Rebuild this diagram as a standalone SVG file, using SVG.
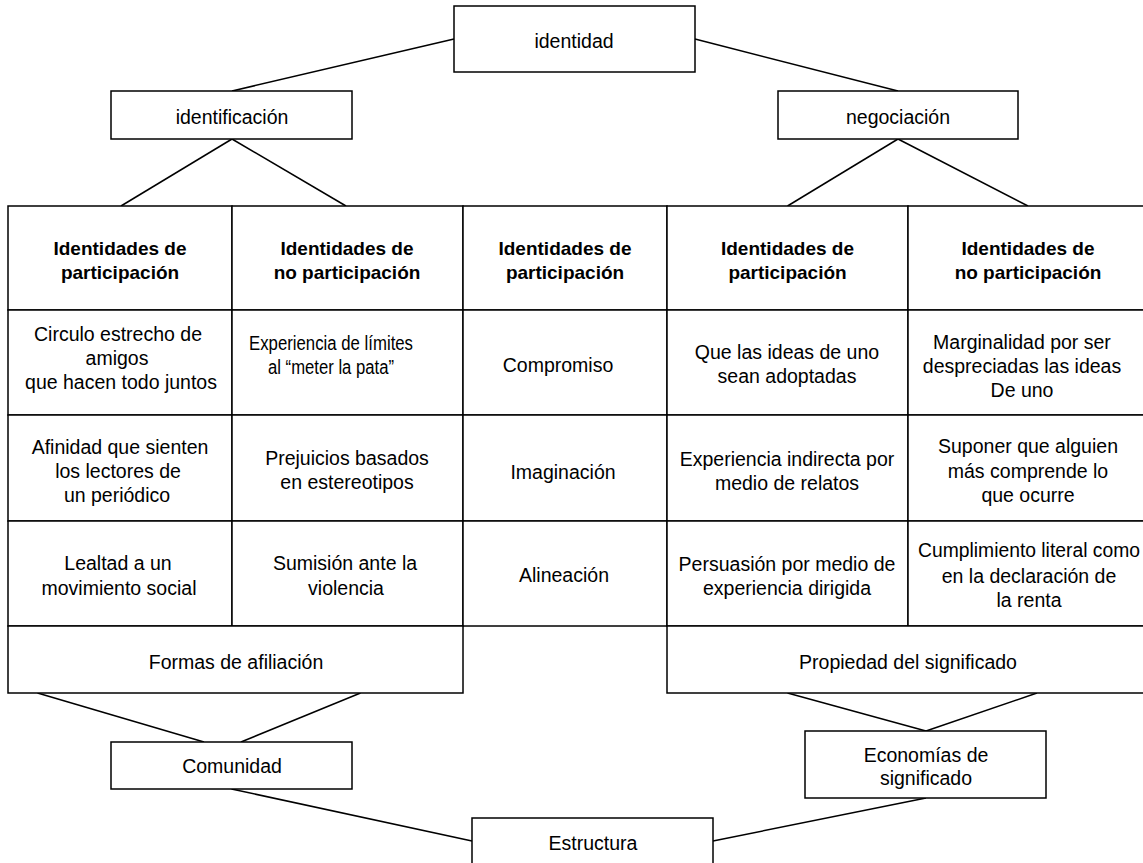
<svg xmlns="http://www.w3.org/2000/svg" width="1143" height="863" viewBox="0 0 1143 863">
<style>
rect{fill:#fff;stroke:#000;stroke-width:1.5}
line{stroke:#000;stroke-width:1.5}
text{font-family:"Liberation Sans",Arial,sans-serif;font-size:19.5px;fill:#000;text-anchor:middle}
.h{font-weight:bold;font-size:19px}
</style>
<rect x="0" y="0" width="1143" height="863" style="stroke:none"/>
<g id="connectors">
<line x1="454" y1="39" x2="232" y2="91"/>
<line x1="695" y1="39" x2="898" y2="91"/>
<line x1="232" y1="139" x2="121" y2="206"/>
<line x1="232" y1="139" x2="346" y2="206"/>
<line x1="898" y1="139" x2="787.5" y2="206"/>
<line x1="898" y1="139" x2="1028" y2="206"/>
<line x1="37.5" y1="693" x2="204" y2="742"/>
<line x1="360.5" y1="693" x2="241" y2="742"/>
<line x1="787.5" y1="693" x2="926" y2="731"/>
<line x1="1037" y1="693" x2="926" y2="731"/>
<line x1="231.5" y1="789" x2="472" y2="841"/>
<line x1="926" y1="798" x2="713" y2="841"/>
</g>
<g id="identidad"><rect x="454" y="6" width="241" height="66"/><text x="574" y="48">identidad</text></g>
<g id="identificacion"><rect x="111" y="91" width="241" height="48"/><text x="232" y="124">identificación</text></g>
<g id="negociacion"><rect x="778" y="91" width="240" height="48"/><text x="898" y="124">negociación</text></g>

<g id="h1"><rect x="8" y="206" width="224" height="104"/><text class="h" x="120" y="255">Identidades de</text><text class="h" x="120" y="279">participación</text></g>
<g id="h2"><rect x="232" y="206" width="231" height="104"/><text class="h" x="347" y="255">Identidades de</text><text class="h" x="347" y="279">no participación</text></g>
<g id="h3"><rect x="463" y="206" width="204" height="104"/><text class="h" x="565" y="255">Identidades de</text><text class="h" x="565" y="279">participación</text></g>
<g id="h4"><rect x="667" y="206" width="241" height="104"/><text class="h" x="787.5" y="255">Identidades de</text><text class="h" x="787.5" y="279">participación</text></g>
<g id="h5"><rect x="908" y="206" width="241" height="104"/><text class="h" x="1028" y="255">Identidades de</text><text class="h" x="1028" y="279">no participación</text></g>

<g id="r2c1"><rect x="8" y="310" width="224" height="105"/><text x="118" y="341">Circulo estrecho de</text><text x="117" y="365">amigos</text><text x="121" y="389">que hacen todo juntos</text></g>
<g id="r2c2"><rect x="232" y="310" width="231" height="105"/><text x="331" y="350" textLength="164" lengthAdjust="spacingAndGlyphs">Experiencia de límites</text><text x="331" y="374" textLength="126" lengthAdjust="spacingAndGlyphs">al “meter la pata”</text></g>
<g id="r2c3"><rect x="463" y="310" width="204" height="105"/><text x="558" y="372">Compromiso</text></g>
<g id="r2c4"><rect x="667" y="310" width="241" height="105"/><text x="787" y="359">Que las ideas de uno</text><text x="787" y="383">sean adoptadas</text></g>
<g id="r2c5"><rect x="908" y="310" width="241" height="105"/><text x="1022" y="349">Marginalidad por ser</text><text x="1022" y="373">despreciadas las ideas</text><text x="1022" y="397">De uno</text></g>

<g id="r3c1"><rect x="8" y="415" width="224" height="106"/><text x="120" y="454">Afinidad que sienten</text><text x="118" y="478">los lectores de</text><text x="117" y="502">un periódico</text></g>
<g id="r3c2"><rect x="232" y="415" width="231" height="106"/><text x="347" y="465">Prejuicios basados</text><text x="347" y="489">en estereotipos</text></g>
<g id="r3c3"><rect x="463" y="415" width="204" height="106"/><text x="563" y="479">Imaginación</text></g>
<g id="r3c4"><rect x="667" y="415" width="241" height="106"/><text x="787" y="466">Experiencia indirecta por</text><text x="787" y="490">medio de relatos</text></g>
<g id="r3c5"><rect x="908" y="415" width="241" height="106"/><text x="1028" y="453">Suponer que alguien</text><text x="1028" y="478">más comprende lo</text><text x="1028" y="502">que ocurre</text></g>

<g id="r4c1"><rect x="8" y="521" width="224" height="105"/><text x="118" y="570">Lealtad a un</text><text x="119" y="595">movimiento social</text></g>
<g id="r4c2"><rect x="232" y="521" width="231" height="105"/><text x="345" y="570">Sumisión ante la</text><text x="346" y="595">violencia</text></g>
<g id="r4c3"><rect x="463" y="521" width="204" height="105"/><text x="564" y="582">Alineación</text></g>
<g id="r4c4"><rect x="667" y="521" width="241" height="105"/><text x="787" y="571">Persuasión por medio de</text><text x="787" y="595">experiencia dirigida</text></g>
<g id="r4c5"><rect x="908" y="521" width="241" height="105"/><text x="1029" y="557" textLength="222" lengthAdjust="spacingAndGlyphs">Cumplimiento literal como</text><text x="1029" y="583">en la declaración de</text><text x="1029" y="607">la renta</text></g>

<g id="formas"><rect x="8" y="626" width="455" height="67"/><text x="236" y="669">Formas de afiliación</text></g>
<g id="propiedad"><rect x="667" y="626" width="482" height="67"/><text x="908" y="669">Propiedad del significado</text></g>
<g id="comunidad"><rect x="111" y="742" width="241" height="47"/><text x="232" y="773">Comunidad</text></g>
<g id="economias"><rect x="805" y="731" width="241" height="67"/><text x="926" y="762">Economías de</text><text x="926" y="785">significado</text></g>
<g id="estructura"><rect x="472" y="818" width="241" height="50"/><text x="593" y="850">Estructura</text></g>
</svg>
